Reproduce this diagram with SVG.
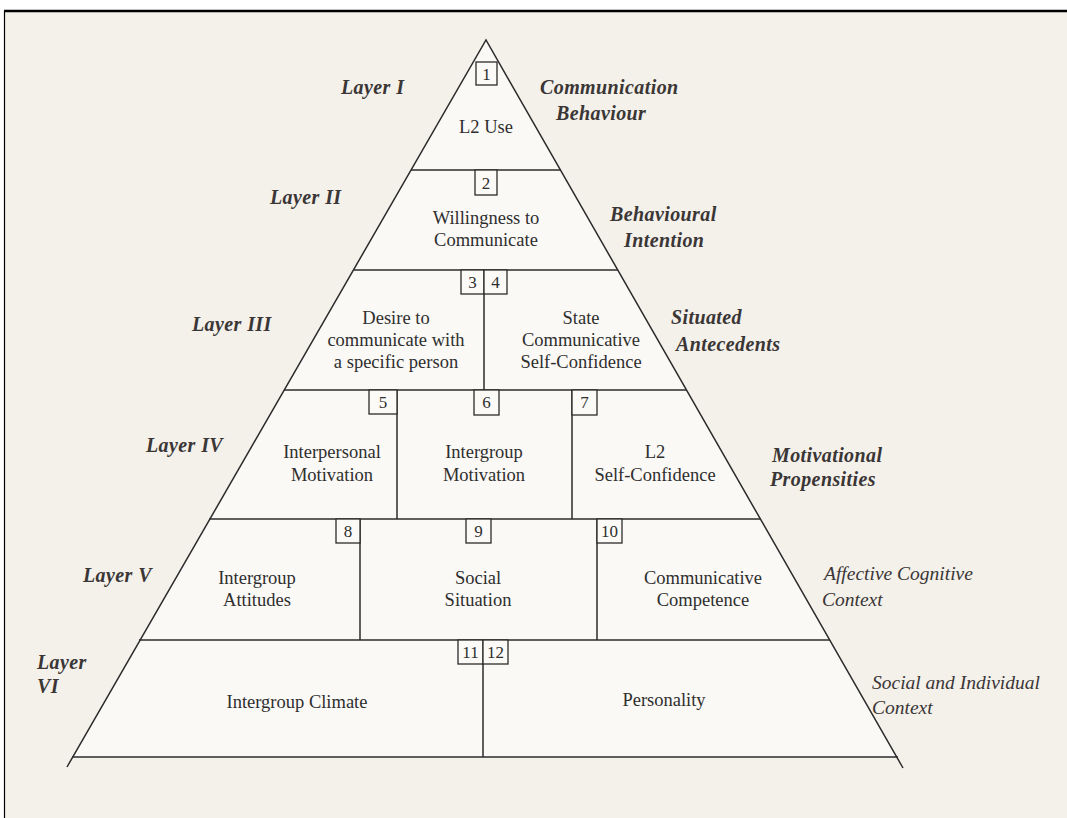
<svg xmlns="http://www.w3.org/2000/svg" width="1067" height="818" viewBox="0 0 1067 818">
<style>
.ln{stroke:#2b2b2b;stroke-width:1.5;fill:none}
.bx{stroke:#2b2b2b;stroke-width:1.3;fill:#fbfaf7}
.t{font-family:"Liberation Serif",serif;font-size:18.5px;fill:#2e2e2e;text-anchor:middle}
.n{font-family:"Liberation Serif",serif;font-size:17px;fill:#2e2e2e;text-anchor:middle}
.s{font-family:"Liberation Serif",serif;font-size:20px;font-style:italic;font-weight:bold;fill:#3a3636;letter-spacing:0.4px}
.s2{font-family:"Liberation Serif",serif;font-size:19.5px;font-style:italic;fill:#3a3636}
</style>
<rect x="0" y="0" width="1067" height="818" fill="#ffffff"/>
<rect x="4.5" y="11" width="1063" height="808" fill="#f4f0ea"/>
<line x1="4" y1="11" x2="1067" y2="11" stroke="#000" stroke-width="2.5"/>
<line x1="4.5" y1="11" x2="4.5" y2="818" stroke="#000" stroke-width="1.2"/>
<g id="pyramid">
<polygon points="486,40 72,757 897,757" fill="#fbf9f6"/>
<polyline class="ln" points="67,767 486,40 903,768"/>
</g>
<g id="connectors">
<line class="ln" x1="411" y1="170" x2="561" y2="170"/>
<line class="ln" x1="354" y1="270" x2="618" y2="270"/>
<line class="ln" x1="284" y1="390" x2="687" y2="390"/>
<line class="ln" x1="209" y1="519" x2="761" y2="519"/>
<line class="ln" x1="139" y1="640" x2="830" y2="640"/>
<line class="ln" x1="72" y1="757" x2="898" y2="757"/>
<line class="ln" x1="484" y1="270" x2="484" y2="390"/>
<line class="ln" x1="397" y1="390" x2="397" y2="519"/>
<line class="ln" x1="572" y1="390" x2="572" y2="519"/>
<line class="ln" x1="360" y1="519" x2="360" y2="640"/>
<line class="ln" x1="597" y1="519" x2="597" y2="640"/>
<line class="ln" x1="483" y1="640" x2="483" y2="757"/>
</g>
<g id="node1">
<rect class="bx" x="476" y="62" width="21" height="23"/>
<text class="n" x="486.5" y="80">1</text>
<text class="t" x="486" y="133">L2 Use</text>
</g>
<g id="node2">
<rect class="bx" x="475" y="170" width="22" height="25"/>
<text class="n" x="486" y="189">2</text>
<text class="t" x="486" y="224">Willingness to</text>
<text class="t" x="486" y="246">Communicate</text>
</g>
<g id="node3">
<rect class="bx" x="461" y="270" width="23" height="24"/>
<text class="n" x="472.5" y="288">3</text>
<text class="t" x="396" y="324">Desire to</text>
<text class="t" x="396" y="346">communicate with</text>
<text class="t" x="396" y="368">a specific person</text>
</g>
<g id="node4">
<rect class="bx" x="484" y="270" width="23" height="24"/>
<text class="n" x="495.5" y="288">4</text>
<text class="t" x="581" y="324">State</text>
<text class="t" x="581" y="346">Communicative</text>
<text class="t" x="581" y="368">Self-Confidence</text>
</g>
<g id="node5">
<rect class="bx" x="369" y="390" width="28" height="24"/>
<text class="n" x="383" y="408">5</text>
<text class="t" x="332" y="458">Interpersonal</text>
<text class="t" x="332" y="481">Motivation</text>
</g>
<g id="node6">
<rect class="bx" x="474" y="390" width="25" height="25"/>
<text class="n" x="486.5" y="408">6</text>
<text class="t" x="484" y="458">Intergroup</text>
<text class="t" x="484" y="481">Motivation</text>
</g>
<g id="node7">
<rect class="bx" x="572" y="390" width="25" height="25"/>
<text class="n" x="584.5" y="408">7</text>
<text class="t" x="655" y="458">L2</text>
<text class="t" x="655" y="481">Self-Confidence</text>
</g>
<g id="node8">
<rect class="bx" x="336" y="519" width="24" height="24"/>
<text class="n" x="348" y="537">8</text>
<text class="t" x="257" y="584">Intergroup</text>
<text class="t" x="257" y="606">Attitudes</text>
</g>
<g id="node9">
<rect class="bx" x="466" y="519" width="25" height="24"/>
<text class="n" x="478.5" y="537">9</text>
<text class="t" x="478" y="584">Social</text>
<text class="t" x="478" y="606">Situation</text>
</g>
<g id="node10">
<rect class="bx" x="597" y="519" width="25" height="24"/>
<text class="n" x="609.5" y="537">10</text>
<text class="t" x="703" y="584">Communicative</text>
<text class="t" x="703" y="606">Competence</text>
</g>
<g id="node11">
<rect class="bx" x="458" y="640" width="25" height="24"/>
<text class="n" x="470.5" y="658">11</text>
<text class="t" x="297" y="708">Intergroup Climate</text>
</g>
<g id="node12">
<rect class="bx" x="483" y="640" width="25" height="24"/>
<text class="n" x="495.5" y="658">12</text>
<text class="t" x="664" y="706">Personality</text>
</g>
<g id="labels">
<text class="s" x="341" y="94">Layer I</text>
<text class="s" x="540" y="94">Communication</text>
<text class="s" x="556" y="120">Behaviour</text>
<text class="s" x="270" y="204">Layer II</text>
<text class="s" x="610" y="221">Behavioural</text>
<text class="s" x="624" y="247">Intention</text>
<text class="s" x="192" y="331">Layer III</text>
<text class="s" x="671" y="324">Situated</text>
<text class="s" x="676" y="351">Antecedents</text>
<text class="s" x="146" y="452">Layer IV</text>
<text class="s" x="772" y="462">Motivational</text>
<text class="s" x="770" y="486">Propensities</text>
<text class="s" x="83" y="582">Layer V</text>
<text class="s2" x="824" y="580">Affective Cognitive</text>
<text class="s2" x="822" y="606">Context</text>
<text class="s" x="37" y="669">Layer</text>
<text class="s" x="37" y="693">VI</text>
<text class="s2" x="872" y="689">Social and Individual</text>
<text class="s2" x="872" y="714">Context</text>
</g>
</svg>
